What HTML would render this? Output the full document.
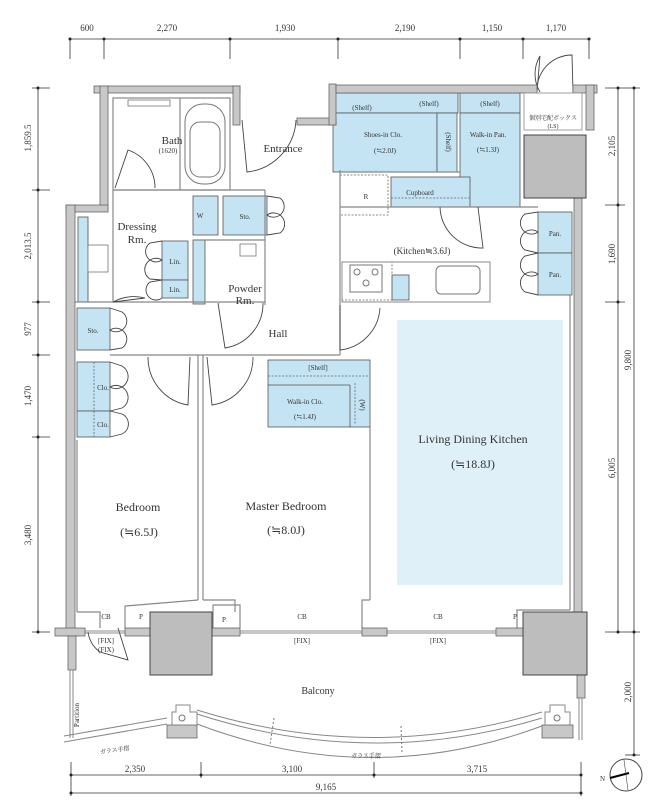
<!DOCTYPE html>
<html><head><meta charset="utf-8"><style>
html,body{margin:0;padding:0;background:#fff}
svg{display:block}
text{font-family:"Liberation Serif","Noto Serif CJK SC",serif;fill:#333}
.d{font-size:9px}
.s{font-size:7px}
.m{font-size:12px}
</style></head><body>
<svg width="659" height="810" viewBox="0 0 659 810" xmlns="http://www.w3.org/2000/svg">
<g stroke="#333" stroke-width="0.8" fill="none">
<line x1="70" y1="39" x2="589" y2="39"/>
<g><line x1="70" y1="39" x2="70" y2="59"/><line x1="104" y1="39" x2="104" y2="59"/><line x1="230" y1="39" x2="230" y2="59"/><line x1="338" y1="39" x2="338" y2="59"/><line x1="460" y1="39" x2="460" y2="59"/><line x1="523" y1="39" x2="523" y2="59"/><line x1="589" y1="39" x2="589" y2="59"/></g>
<line x1="38" y1="88" x2="38" y2="632"/>
<line x1="32" y1="88" x2="50" y2="88"/><line x1="32" y1="190" x2="50" y2="190"/><line x1="32" y1="302" x2="50" y2="302"/><line x1="32" y1="355" x2="50" y2="355"/><line x1="32" y1="437" x2="50" y2="437"/><line x1="32" y1="632" x2="50" y2="632"/>
<line x1="618" y1="88" x2="618" y2="632"/><line x1="634" y1="88" x2="634" y2="755"/>
<line x1="605" y1="88" x2="640" y2="88"/><line x1="605" y1="205" x2="625" y2="205"/><line x1="605" y1="302" x2="625" y2="302"/><line x1="605" y1="632" x2="640" y2="632"/><line x1="625" y1="755" x2="640" y2="755"/>
<line x1="71" y1="775" x2="581" y2="775"/><line x1="71" y1="793" x2="581" y2="793"/>
<line x1="71" y1="762" x2="71" y2="796"/><line x1="201" y1="762" x2="201" y2="778"/><line x1="374" y1="762" x2="374" y2="778"/><line x1="581" y1="762" x2="581" y2="796"/>
</g>
<g fill="#222">
<circle cx="70" cy="39" r="1.5"/><circle cx="104" cy="39" r="1.5"/><circle cx="230" cy="39" r="1.5"/><circle cx="338" cy="39" r="1.5"/><circle cx="460" cy="39" r="1.5"/><circle cx="523" cy="39" r="1.5"/><circle cx="589" cy="39" r="1.5"/>
<circle cx="38" cy="88" r="1.5"/><circle cx="38" cy="190" r="1.5"/><circle cx="38" cy="302" r="1.5"/><circle cx="38" cy="355" r="1.5"/><circle cx="38" cy="437" r="1.5"/><circle cx="38" cy="632" r="1.5"/>
<circle cx="618" cy="88" r="1.5"/><circle cx="618" cy="205" r="1.5"/><circle cx="618" cy="302" r="1.5"/><circle cx="618" cy="632" r="1.5"/><circle cx="634" cy="88" r="1.5"/><circle cx="634" cy="632" r="1.5"/><circle cx="634" cy="755" r="1.5"/>
<circle cx="71" cy="775" r="1.5"/><circle cx="201" cy="775" r="1.5"/><circle cx="374" cy="775" r="1.5"/><circle cx="581" cy="775" r="1.5"/><circle cx="71" cy="793" r="1.5"/><circle cx="581" cy="793" r="1.5"/>
</g>
<g class="d" text-anchor="middle">
<text x="87" y="31">600</text><text x="167" y="31">2,270</text><text x="285" y="31">1,930</text><text x="405" y="31">2,190</text><text x="492" y="31">1,150</text><text x="556" y="31">1,170</text>
<text x="292" y="772">3,100</text><text x="135" y="772">2,350</text><text x="477" y="772">3,715</text><text x="326" y="790">9,165</text>
<text transform="translate(31,138) rotate(-90)">1,859.5</text><text transform="translate(31,246) rotate(-90)">2,013.5</text><text transform="translate(31,329) rotate(-90)">977</text><text transform="translate(31,396) rotate(-90)">1,470</text><text transform="translate(31,535) rotate(-90)">3,480</text>
<text transform="translate(615,146) rotate(-90)">2,105</text><text transform="translate(615,254) rotate(-90)">1,690</text><text transform="translate(631,360) rotate(-90)">9,800</text><text transform="translate(615,468) rotate(-90)">6,005</text><text transform="translate(631,692) rotate(-90)">2,000</text>
</g>

<g fill="#c4e4f3" stroke="#555" stroke-width="0.8">
<rect x="333" y="93" width="125" height="20"/><rect x="460" y="93" width="60" height="20"/>
<rect x="333" y="113" width="104" height="59"/><rect x="437" y="113" width="20" height="59"/><rect x="460" y="113" width="60" height="94"/>
<rect x="391" y="177" width="79" height="30"/>
<rect x="538" y="212" width="34" height="41"/><rect x="538" y="253" width="34" height="42"/>
<rect x="392" y="275" width="17" height="25"/>
<rect x="223" y="196" width="44" height="39"/><rect x="193" y="196" width="25" height="39"/>
<rect x="162" y="241" width="26" height="39"/><rect x="162" y="280" width="26" height="18"/>
<rect x="193" y="240" width="12" height="64"/>
<rect x="78" y="217" width="10" height="85"/>
<rect x="77" y="308" width="33" height="42"/>
<rect x="77" y="362" width="33" height="49"/><rect x="77" y="411" width="33" height="26"/>
<rect x="268" y="360" width="102" height="67"/>
</g>
<rect x="397" y="320" width="166" height="265" fill="#dff0f9"/>
<g stroke="#666" stroke-width="0.8" fill="none" stroke-dasharray="2,1.5">
<rect x="340" y="175" width="48" height="40"/><line x1="391" y1="198" x2="470" y2="198"/>
<rect x="342" y="262" width="50" height="38"/><line x1="268" y1="376" x2="370" y2="376"/><line x1="355" y1="383" x2="355" y2="424"/>
<line x1="88" y1="217" x2="88" y2="302"/><line x1="94" y1="362" x2="94" y2="437"/>
</g>
<line x1="268" y1="385" x2="350" y2="385" stroke="#555" stroke-width="0.8"/><line x1="350" y1="385" x2="350" y2="427" stroke="#555" stroke-width="0.8"/>

<g stroke="#888" stroke-width="1.2" fill="none">
<rect x="113" y="98" width="117" height="92"/>
<line x1="180" y1="98" x2="180" y2="190"/>
<line x1="113" y1="190" x2="265" y2="190"/><line x1="265" y1="190" x2="265" y2="240"/>
<line x1="113" y1="190" x2="113" y2="302"/>
<line x1="75" y1="302" x2="265" y2="302"/><line x1="193" y1="240" x2="265" y2="240"/><line x1="265" y1="240" x2="265" y2="305"/>
<line x1="110" y1="355" x2="340" y2="355"/>
<line x1="340" y1="170" x2="340" y2="355"/>
<line x1="340" y1="207" x2="538" y2="207"/><line x1="340" y1="172" x2="460" y2="172"/>
<line x1="77" y1="440" x2="77" y2="612"/><line x1="198" y1="355" x2="198" y2="600"/><line x1="203" y1="355" x2="203" y2="600"/>
<line x1="370" y1="427" x2="370" y2="600"/><line x1="570" y1="295" x2="570" y2="610"/>
<polyline points="77,612 100,612 100,628"/><polyline points="125,628 125,606 198,600"/><polyline points="213,628 213,605 240,605 240,628"/>
<polyline points="203,600 235,600 235,612"/><polyline points="362,628 362,600 370,600"/>
<polyline points="570,610 517,610 517,628"/>
</g>
<rect x="185" y="104" width="40" height="80" rx="18" fill="none" stroke="#777" stroke-width="1"/>
<rect x="190" y="122" width="30" height="55" rx="10" fill="none" stroke="#777" stroke-width="1"/>
<rect x="128" y="100" width="42" height="6" fill="none" stroke="#777" stroke-width="0.8"/>
<rect x="88" y="245" width="20" height="27" fill="#fff" stroke="#777" stroke-width="0.8"/>
<rect x="240" y="244" width="16" height="12" fill="none" stroke="#777" stroke-width="0.8"/>
<rect x="350" y="265" width="32" height="27" fill="none" stroke="#777"/>
<circle cx="357" cy="272" r="3" fill="none" stroke="#777"/><circle cx="375" cy="272" r="3" fill="none" stroke="#777"/><circle cx="366" cy="283" r="3" fill="none" stroke="#777"/>
<rect x="342" y="262" width="148" height="40" fill="none" stroke="#888" stroke-width="1"/>
<rect x="436" y="266" width="44" height="28" rx="5" fill="none" stroke="#777"/>
<g stroke="#444" stroke-width="0.9" fill="none">
<path d="M115,188 L128,150 A40,40 0 0 1 155,188"/>
<path d="M242,120 L247,172 A55,55 0 0 0 296,120"/>
<path d="M478,207 L483,248 A42,42 0 0 1 440,207"/>
<path d="M218,303 L225,348 A45,45 0 0 0 263,303"/>
<path d="M340,305 L340,350 A45,45 0 0 0 380,308"/>
<path d="M190,357 L188,405 A48,48 0 0 1 148,357"/>
<path d="M207,357 L212,405 A48,48 0 0 0 253,357"/>
<path d="M537,92 L540,56 A35,35 0 0 0 540,92"/><path d="M573,92 L572,55 A35,35 0 0 0 537,92"/>
<path d="M118,628 L128,660 L100,652 A30,30 0 0 1 88,632"/>
<path d="M110,308 L122,312 A10,10 0 0 1 110,330 A10,10 0 0 1 122,348 L110,350"/>
<path d="M110,362 L122,366 A12,12 0 0 1 110,387 A12,12 0 0 1 122,408 L110,411"/>
<path d="M110,411 L122,414 A11,11 0 0 1 122,434 L110,437"/>
<path d="M267,196 L280,198 A10,10 0 0 1 267,215 A10,10 0 0 1 280,233 L267,235"/>
<path d="M538,212 L525,214 A10,10 0 0 0 538,232 A10,10 0 0 0 525,250 L538,253"/>
<path d="M538,253 L525,256 A10,10 0 0 0 538,274 A10,10 0 0 0 525,292 L538,295"/>
<path d="M162,241 L150,243 A10,10 0 0 0 162,260 A10,10 0 0 0 150,279 L162,280"/>
<path d="M162,280 L150,282 A8,8 0 0 0 162,298"/>
<path d="M113,302 L145,298 A45,45 0 0 0 113,302"/>
</g>
<g fill="#c8c8c8" stroke="#666" stroke-width="0.8">
<rect x="94" y="86" width="146" height="7"/><rect x="233" y="86" width="7" height="39"/>
<rect x="297" y="118" width="39" height="7"/><rect x="329" y="84" width="7" height="41"/>
<rect x="336" y="85" width="201" height="8"/><rect x="573" y="85" width="24" height="8"/><rect x="586" y="85" width="8" height="45"/>
<rect x="100" y="86" width="8" height="124"/><rect x="66" y="205" width="42" height="7"/>
<rect x="66" y="205" width="9" height="427"/>
<rect x="574" y="198" width="8" height="414"/>
<rect x="55" y="628" width="30" height="8"/><rect x="68" y="636" width="8" height="34"/>
<rect x="125" y="628" width="25" height="8"/><rect x="210" y="628" width="30" height="8"/>
<rect x="362" y="628" width="25" height="8"/><rect x="496" y="628" width="28" height="8"/>
<rect x="577" y="675" width="8" height="23"/>
<rect x="167" y="725" width="30" height="13"/><rect x="542" y="725" width="31" height="13"/>
</g>
<g fill="#bdbdbd" stroke="#444" stroke-width="1">
<rect x="524" y="135" width="62" height="63"/>
<rect x="150" y="612" width="62" height="63"/>
<rect x="523" y="612" width="64" height="63"/>
</g>
<rect x="524" y="93" width="58" height="37" fill="#fff" stroke="#888" stroke-width="0.8"/>
<g stroke="#666" stroke-width="0.8">
<line x1="85" y1="631" x2="125" y2="631"/><line x1="85" y1="633" x2="125" y2="633"/>
<line x1="240" y1="631" x2="362" y2="631"/><line x1="240" y1="633" x2="362" y2="633"/>
<line x1="387" y1="631" x2="496" y2="631"/><line x1="387" y1="633" x2="496" y2="633"/>
</g>
<g stroke="#888" stroke-width="1" fill="none">
<path d="M64,742 L167,724"/><path d="M64,736 L167,718"/>
<path d="M197,724 Q370,790 542,726"/><path d="M197,714 Q370,770 542,718"/><path d="M197,710 Q370,764 542,712"/>
<line x1="70" y1="670" x2="70" y2="738"/><line x1="73" y1="670" x2="73" y2="738"/>
<path d="M172,725 L172,712 L176,712 L176,705 L190,705 L190,712 L197,712 L197,725"/>
<path d="M545,725 L545,712 L550,712 L550,705 L565,705 L565,712 L570,712 L570,725"/>
<line x1="579" y1="698" x2="579" y2="740"/><line x1="582" y1="698" x2="582" y2="740"/>
</g>
<g stroke="#777" stroke-dasharray="2,2"><line x1="274" y1="718" x2="270" y2="745"/><line x1="401" y1="726" x2="402" y2="752"/></g>
<circle cx="182" cy="718" r="3" fill="none" stroke="#777"/><circle cx="557" cy="718" r="3" fill="none" stroke="#777"/>
<circle cx="626" cy="775" r="16" fill="none" stroke="#444"/>
<line x1="610" y1="778" x2="629" y2="773" stroke="#000" stroke-width="2"/>
<line x1="624" y1="760" x2="628" y2="790" stroke="#444" stroke-width="0.6"/>
<text x="600" y="781" class="s">N</text>
<g text-anchor="middle">
<text x="172" y="144" font-size="11">Bath</text><text x="168" y="153" class="s">(1620)</text>
<text x="283" y="152" font-size="11">Entrance</text>
<text x="137" y="230" font-size="11">Dressing</text><text x="137" y="243" font-size="11">Rm.</text>
<text x="245" y="292" font-size="11">Powder</text><text x="245" y="304" font-size="11">Rm.</text>
<text x="278" y="337" font-size="11">Hall</text>
<text x="200" y="218" class="s">W</text><text x="245" y="219" class="s">Sto.</text>
<text x="175" y="264" class="s">Lin.</text><text x="175" y="292" class="s">Lin.</text>
<text x="93" y="333" class="s">Sto.</text>
<text x="103" y="390" class="s">Clo.</text><text x="103" y="427" class="s">Clo.</text>
<text x="362" y="110" class="s">(Shelf)</text><text x="429" y="106" class="s">(Shelf)</text><text x="490" y="106" class="s">(Shelf)</text>
<text x="383" y="137" class="s">Shoes-in Clo.</text><text x="385" y="153" class="s">(≒2.0J)</text>
<text x="488" y="137" class="s">Walk-in Pan.</text><text x="488" y="152" class="s">(≒1.3J)</text>
<text transform="translate(446,142) rotate(90)" class="s">(Shelf)</text>
<text x="553" y="120" font-size="6">個別宅配ボックス</text><text x="553" y="128" font-size="6">(LS)</text>
<text x="366" y="199" class="s">R</text><text x="420" y="195" class="s">Cupboard</text>
<text x="422" y="254" font-size="9">(Kitchen≒3.6J)</text>
<text x="555" y="236" class="s">Pan.</text><text x="555" y="277" class="s">Pan.</text>
<text x="318" y="370" class="s">[Shelf]</text>
<text x="305" y="404" class="s">Walk-in Clo.</text><text x="305" y="419" class="s">(≒1.4J)</text>
<text transform="translate(360,405) rotate(90)" class="s">(W)</text>
<text x="473" y="443" class="m">Living Dining Kitchen</text><text x="473" y="468" class="m">(≒18.8J)</text>
<text x="138" y="511" class="m">Bedroom</text><text x="139" y="536" class="m">(≒6.5J)</text>
<text x="286" y="510" class="m">Master Bedroom</text><text x="286" y="534" class="m">(≒8.0J)</text>
<text x="106" y="619" class="s">CB</text><text x="141" y="619" class="s">P</text><text x="224" y="622" class="s">P</text>
<text x="302" y="619" class="s">CB</text><text x="438" y="619" class="s">CB</text><text x="515" y="619" class="s">P</text>
<text x="106" y="643" class="s">[FIX]</text><text x="106" y="652" class="s">(FIX)</text>
<text x="302" y="643" class="s">[FIX]</text><text x="438" y="643" class="s">[FIX]</text>
<text x="318" y="694" font-size="10">Balcony</text>
<text transform="translate(79,715) rotate(-90)" class="s">Partition</text>
<text x="115" y="752" font-size="6" transform="rotate(-8,115,752)">ガラス手摺</text>
<text x="366" y="758" font-size="6">ガラス手摺</text>
</g>
</svg>
</body></html>
